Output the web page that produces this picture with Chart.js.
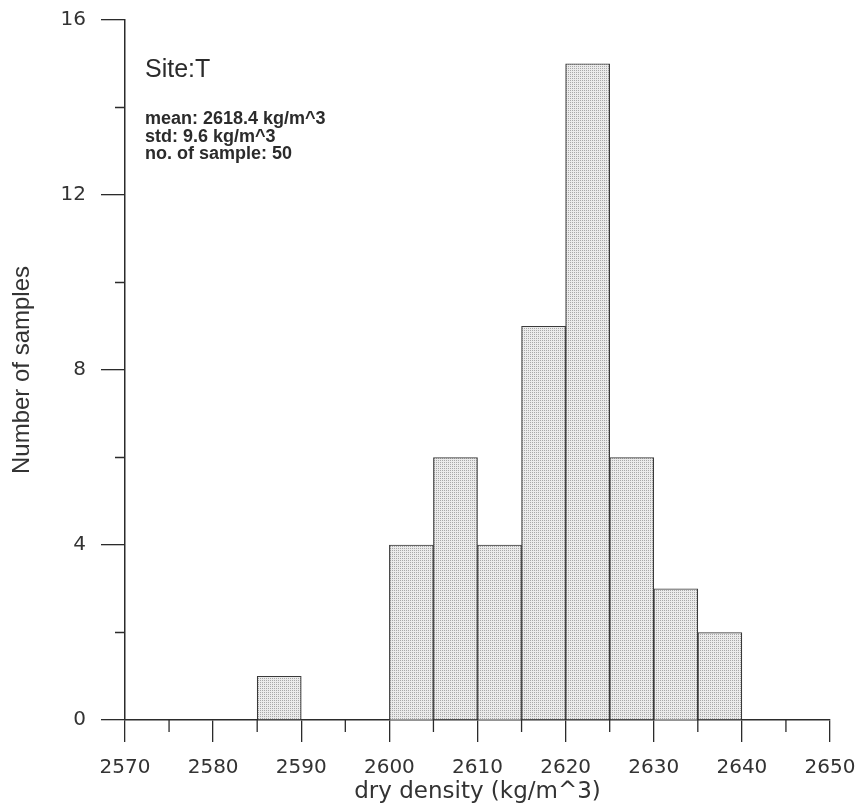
<!DOCTYPE html>
<html>
<head>
<meta charset="utf-8">
<script src="https://cdn.jsdelivr.net/npm/chart.js@4"></script>
<style>body{margin:0;background:#fff}</style>
</head>
<body>
<canvas id="chart" width="859" height="806"></canvas>
<script>
// histogram bins (kg/m^3), width 5
var binCenters = [2587.5, 2592.5, 2597.5, 2602.5, 2607.5, 2612.5, 2617.5, 2622.5, 2627.5, 2632.5, 2637.5];
var binCounts = [1, 0, 0, 4, 6, 4, 9, 15, 6, 3, 2];
var xMinorTicks = [2575, 2585, 2595, 2605, 2615, 2625, 2635, 2645];
var yMinorTicks = [2, 6, 10, 14];
var siteLabel = 'Site:T';
var statLines = ['mean: 2618.4 kg/m^3', 'std: 9.6 kg/m^3', 'no. of sample: 50'];

//stipple fill like the scanned figure
function stipple() {
    var c = document.createElement('canvas');
    c.width = 2; c.height = 2;
    var g = c.getContext('2d');
    g.fillStyle = '#ebebeb';
    g.fillRect(0, 0, 2, 2);
    g.fillStyle = '#a8a8a8';
    g.fillRect(0, 0, 1, 1);
    return g.createPattern(c, 'repeat');
}

var ink = '#2b2b2b';
var tickFont = { family: '"DejaVu Sans", sans-serif', size: 20 };

var extras = {
    id: 'extras',
    afterDraw: function (chart) {
        var ctx = chart.ctx;
        var x = chart.scales.x, y = chart.scales.y;
        ctx.save();
        ctx.strokeStyle = ink;
        ctx.lineWidth = 1.3;
        ctx.beginPath();
        xMinorTicks.forEach(function (v) {
            var px = x.getPixelForValue(v);
            ctx.moveTo(px, y.bottom);
            ctx.lineTo(px, y.bottom + 12);
        });
        yMinorTicks.forEach(function (v) {
            var py = y.getPixelForValue(v);
            ctx.moveTo(x.left, py);
            ctx.lineTo(x.left - 10, py);
        });
        ctx.stroke();

        ctx.fillStyle = ink;
        ctx.textBaseline = 'alphabetic';
        ctx.font = '25px "Liberation Sans", Arial, sans-serif';
        ctx.fillText(siteLabel, 145, 77);
        ctx.font = 'bold 18px "Liberation Sans", Arial, sans-serif';
        statLines.forEach(function (s, i) {
            ctx.fillText(s, 145, 124 + i * 17.5);
        });
        ctx.restore();
    }
};

new Chart(document.getElementById('chart'), {
    type: 'bar',
    data: {
        datasets: [{
            data: binCenters.map(function (c, i) { return { x: c, y: binCounts[i] }; }),
            backgroundColor: stipple(),
            borderColor: '#3a3a3a',
            borderWidth: 1.2,
            borderSkipped: 'start',
            barPercentage: 1,
            categoryPercentage: 1
        }]
    },
    options: {
        responsive: false,
        animation: false,
        layout: { padding: { top: 20, right: 29, left: 0, bottom: 0 } },
        plugins: { legend: { display: false }, tooltip: { enabled: false } },
        scales: {
            x: {
                type: 'linear',
                min: 2570,
                max: 2650,
                offset: false,
                ticks: {
                    stepSize: 10,
                    color: '#333',
                    padding: 14,
                    maxRotation: 0,
                    font: tickFont,
                    callback: function (v) { return String(v); }
                },
                grid: { drawOnChartArea: false, offset: false, tickLength: 22, color: ink, lineWidth: 1.3 },
                border: { color: ink, width: 1.5 },
                title: {
                    display: true,
                    text: 'dry density (kg/m^3)',
                    color: '#333',
                    padding: 0,
                    font: { family: '"DejaVu Sans", sans-serif', size: 23 }
                },
                afterFit: function (s) {
                    s.height = 86;
                    s.paddingLeft = 0;
                    s.paddingRight = 0;
                }
            },
            y: {
                min: 0,
                max: 16,
                ticks: {
                    stepSize: 4,
                    color: '#333',
                    padding: 15,
                    font: tickFont,
                    callback: function (v) { return String(v); }
                },
                grid: { drawOnChartArea: false, tickLength: 24, color: ink, lineWidth: 1.3 },
                border: { color: ink, width: 1.5 },
                title: {
                    display: true,
                    text: 'Number of samples',
                    color: '#333',
                    padding: { top: 8, bottom: 0 },
                    font: { family: '"Liberation Sans", sans-serif', size: 24 }
                },
                afterFit: function (s) {
                    s.width = 125;
                    s.paddingTop = 0;
                    s.paddingBottom = 0;
                }
            }
        }
    },
    plugins: [extras]
});
</script>
</body>
</html>
